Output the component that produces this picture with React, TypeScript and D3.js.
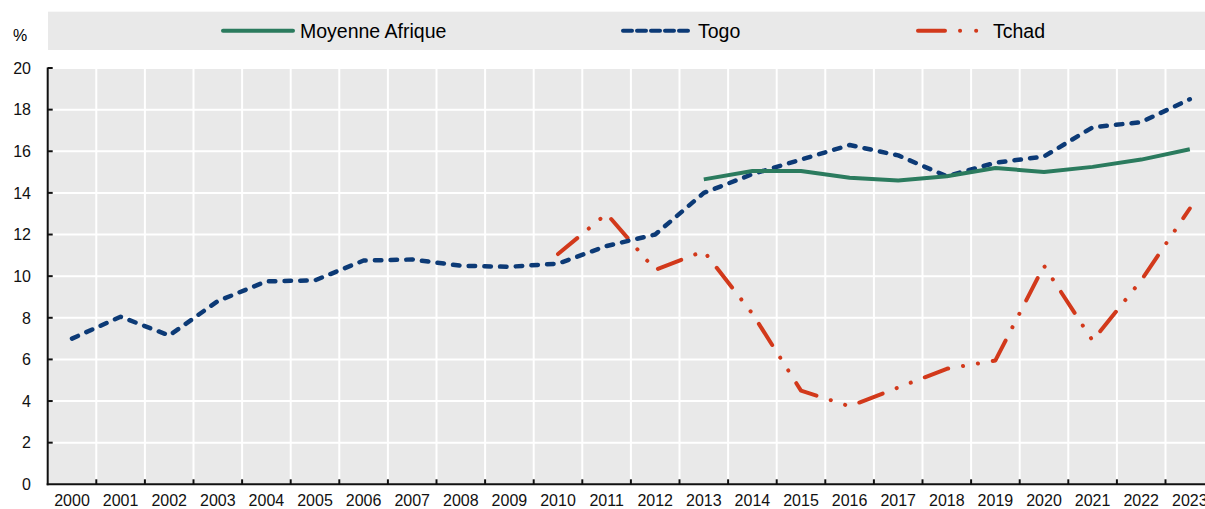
import React from "react";
import * as d3 from "d3";

const years = ["2000","2001","2002","2003","2004","2005","2006","2007","2008","2009","2010","2011","2012","2013","2014","2015","2016","2017","2018","2019","2020","2021","2022","2023"];
const moyenneAfrique: (number | null)[] = [null,null,null,null,null,null,null,null,null,null,null,null,null,14.65,15.05,15.05,14.73,14.6,14.8,15.2,15.0,15.25,15.6,16.1];
const togo: (number | null)[] = [7.0,8.05,7.15,8.8,9.75,9.8,10.75,10.8,10.5,10.45,10.6,11.45,12.0,14.0,14.9,15.6,16.3,15.8,14.8,15.45,15.75,17.15,17.4,18.5];
const tchad: (number | null)[] = [null,null,null,null,null,null,null,null,null,null,11.06,13.0,10.3,11.2,8.2,4.5,3.75,4.65,5.55,5.95,10.5,6.9,9.8,13.25];
const yTicks = [0,2,4,6,8,10,12,14,16,18,20];
const legendLabels = ["Moyenne Afrique","Togo","Tchad"];

const W = 1205, H = 509;
const left = 47.7, bandStep = 48.6;
const top = 68, bottom = 484.3;

const GREEN = "#2b7b5e", BLUE = "#0c3a76", RED = "#d2391b";
const FONT = "'Liberation Sans', Arial, sans-serif";

export default function App() {
  const x = d3.scaleBand<string>().domain(years).range([left, left + bandStep * years.length]).paddingInner(0).paddingOuter(0);
  const y = d3.scaleLinear().domain([0, 20]).range([bottom, top]);
  const cx = (i: number) => (x(years[i]) as number) + x.bandwidth() / 2;

  const mk = (arr: (number | null)[], curve: any) =>
    d3.line<number | null>()
      .defined((d) => d !== null)
      .x((_, i) => cx(i))
      .y((d) => y(d as number))
      .curve(curve)(arr) || "";

  const gridX = years.slice(1).map((yr) => x(yr) as number);
  const plotRight = left + bandStep * years.length;

  const legendY = 30.7;
  const items = [
    { label: legendLabels[0], x0: 223, x1: 293, tx: 300, color: GREEN, dash: "none", cap: "round", w: 4 },
    { label: legendLabels[1], x0: 623, x1: 689, tx: 698, color: BLUE, dash: "9 5", cap: "round", w: 4 },
    { label: legendLabels[2], x0: 918, x1: 985, tx: 993, color: RED, dash: "27 15 0.1 16 0.1 30", cap: "round", w: 4 },
  ];

  return (
    <svg width={W} height={H} style={{ position: "absolute", left: 0, top: 0, background: "#fff" }} fontFamily={FONT}>
      <rect x={48} y={11.7} width={plotRight - 48} height={38.3} fill="#e9e9e9" />
      {items.map((it) => (
        <g key={it.label}>
          <line x1={it.x0} x2={it.x1} y1={legendY} y2={legendY} stroke={it.color} strokeWidth={it.w}
            strokeDasharray={it.dash} strokeLinecap={it.cap as any} />
          <text x={it.tx} y={legendY} dy="0.36em" fontSize={19.5} fill="#000">{it.label}</text>
        </g>
      ))}
      <text x={13} y={35} dy="0.36em" fontSize={16} fill="#000">%</text>

      <rect x={left} y={top} width={plotRight - left} height={bottom - top} fill="#e9e9e9" />
      {yTicks.filter((t) => t > 0).map((t) => (
        <line key={"gy" + t} x1={left} x2={plotRight} y1={y(t)} y2={y(t)} stroke="#fff" strokeWidth={2} />
      ))}
      {gridX.map((gx, i) => (
        <line key={"gx" + i} x1={gx} x2={gx} y1={top} y2={bottom} stroke="#fff" strokeWidth={2} />
      ))}

      <path d={mk(tchad, d3.curveLinear)} fill="none" stroke={RED} strokeWidth={4}
        strokeDasharray="25 15 0.1 15 0.1 15" strokeLinecap="round" strokeLinejoin="round" />
      <path d={mk(togo, d3.curveLinear)} fill="none" stroke={BLUE} strokeWidth={4.5}
        strokeDasharray="6.5 9.2" strokeLinecap="round" strokeLinejoin="round" />
      <path d={mk(moyenneAfrique, d3.curveLinear)} fill="none" stroke={GREEN} strokeWidth={4}
        strokeLinecap="butt" strokeLinejoin="round" />

      <line x1={left} x2={left} y1={top - 0.5} y2={bottom + 1} stroke="#111" strokeWidth={2} />
      <line x1={left - 1} x2={plotRight} y1={bottom} y2={bottom} stroke="#111" strokeWidth={2} />
      {yTicks.filter((t) => t > 0).map((t) => (
        <line key={"ty" + t} x1={left} x2={left + 5} y1={y(t)} y2={y(t)} stroke="#111" strokeWidth={2} />
      ))}
      {gridX.map((gx, i) => (
        <line key={"tx" + i} x1={gx} x2={gx} y1={bottom} y2={bottom - 5} stroke="#111" strokeWidth={2} />
      ))}
      {yTicks.map((t) => (
        <text key={"ly" + t} x={31} y={y(t)} dy="0.36em" textAnchor="end" fontSize={16} fill="#111">{t}</text>
      ))}
      {years.map((yr, i) => (
        <text key={"lx" + yr} x={cx(i)} y={506} textAnchor="middle" fontSize={16} fill="#111">{yr}</text>
      ))}
    </svg>
  );
}
